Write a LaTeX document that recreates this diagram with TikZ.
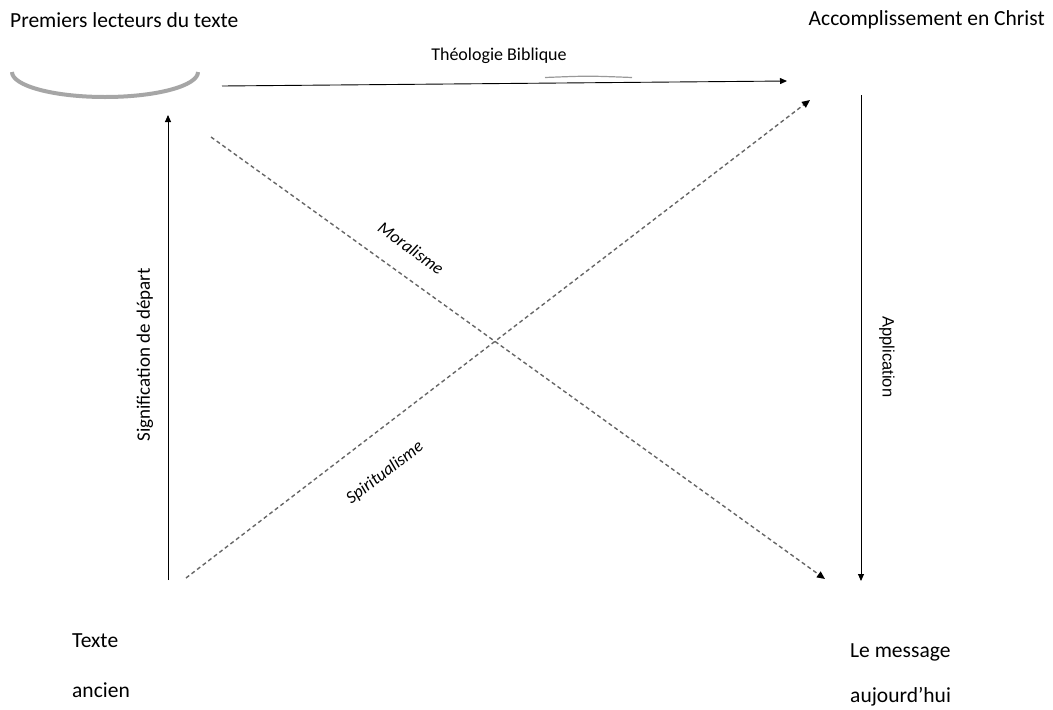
\documentclass[tikz,border=0pt]{standalone}
\usepackage{fontspec}
\setmainfont{Carlito}
\newfontfamily\arialfont{Liberation Sans}
\usetikzlibrary{arrows.meta}
\begin{document}
\begin{tikzpicture}[x=1pt,y=-1pt,
  lbl/.style={font=\fontsize{21.5}{24}\selectfont, inner sep=0pt},
  small/.style={font=\fontsize{18}{20}\selectfont, inner sep=0pt},
  ital/.style={font=\itshape\fontsize{17.5}{20}\selectfont, inner sep=0pt},
  solidarrow/.style={draw=black, line width=0.9pt, -{Triangle[length=7pt,width=6pt]}},
  dasharrow/.style={draw=black!60, line width=1.4pt, dash pattern=on 4pt off 3pt, -{Triangle[length=8pt,width=7pt,color=black,fill=black]}}]
\useasboundingbox (0,0) rectangle (1053,710);
% labels
\node[lbl, anchor=west] (premiers) at (10,20) {Premiers lecteurs du texte};
\node[lbl, anchor=east] (accomp) at (1045,20) {Accomplissement en Christ};
\node[small] (theo) at (499,56) {Théologie Biblique};
\node[lbl, anchor=west] (texte) at (72,641) {Texte};
\node[lbl, anchor=west] (ancien) at (72,690) {ancien};
\node[lbl, anchor=west] (message) at (850,652) {Le message};
\node[lbl, anchor=west] (auj) at (850,697) {aujourd’hui};
% gray arc
\draw[black!35, line width=4pt] (12,72) arc[start angle=180, end angle=0, x radius=93, y radius=25];
% coordinates
\coordinate (tA) at (222,86);
\coordinate (tB) at (787,81);
\coordinate (lA) at (168,580);
\coordinate (lB) at (168,115);
\coordinate (rA) at (861,95);
\coordinate (rB) at (861,581);
\coordinate (mA) at (211,137);
\coordinate (mB) at (825,579);
\coordinate (sA) at (186,578);
\coordinate (sB) at (810,100);
% arrows
\draw[solidarrow] (tA) -- (tB);
\draw[black!40, line width=1.2pt] (545,77.5) .. controls (588,75.8) .. (632,77.5);
\draw[solidarrow] (lA) -- (lB);
\draw[solidarrow] (rA) -- (rB);
\draw[dasharrow] (mA) -- (mB);
\draw[dasharrow] (sA) -- (sB);
% arrow labels
\node[inner sep=0pt, rotate=-90] (appl) at (887,357) {\arialfont\fontsize{16.5}{18}\selectfont Application};
\node[inner sep=0pt, font=\fontsize{19}{21}\selectfont, rotate=90] (signif) at (145,355) {Signification de départ};
\node[ital, rotate=-35.7] (moral) at (411,248) {Moralisme};
\node[ital, rotate=37.4] (spirit) at (385,473) {Spiritualisme};
\end{tikzpicture}
\end{document}
